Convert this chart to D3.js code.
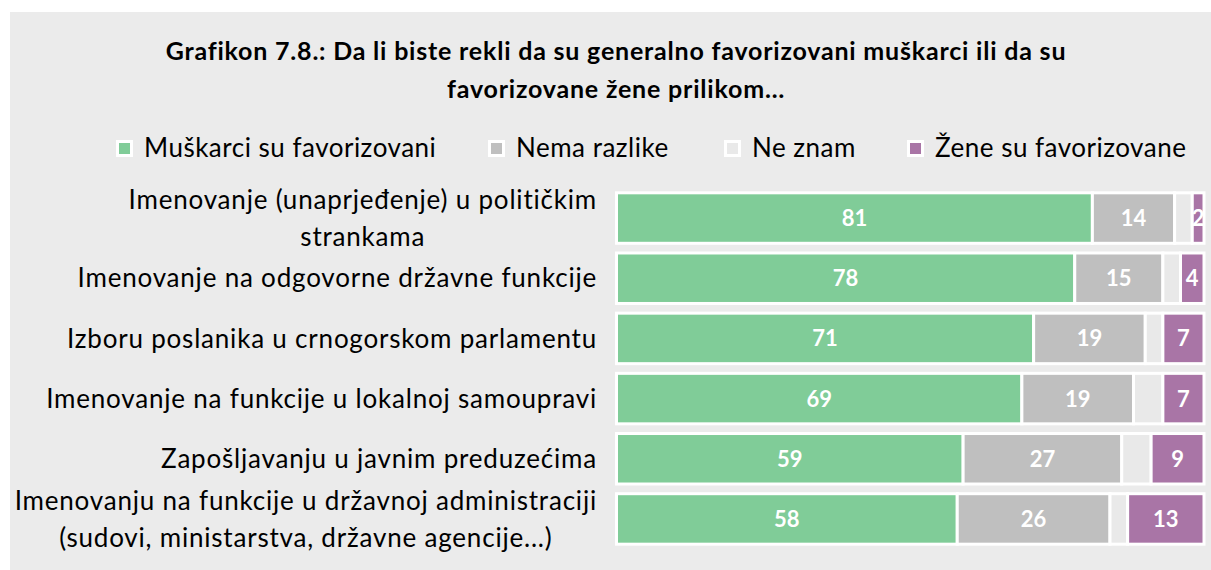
<!DOCTYPE html>
<html>
<head>
<meta charset="utf-8">
<script src="https://cdn.jsdelivr.net/npm/d3@7"></script>
<style>
  body { margin: 0; background: #fff; }
  svg { display: block; font-family: Lato, "Liberation Sans", sans-serif; }
</style>
</head>
<body>
<div class="holder"></div>
<script>
// categories (each entry = lines of the label)
var categories = [
  ['Imenovanje (unaprjeđenje) u političkim', 'strankama'],
  ['Imenovanje na odgovorne državne funkcije'],
  ['Izboru poslanika u crnogorskom parlamentu'],
  ['Imenovanje na funkcije u lokalnoj samoupravi'],
  ['Zapošljavanju u javnim preduzećima'],
  ['Imenovanju na funkcije u državnoj administraciji', '(sudovi, ministarstva, državne agencije...)']
]

var seriesNames = ['Muškarci su favorizovani', 'Nema razlike', 'Ne znam', 'Žene su favorizovane']
var seriesColors = ['#80cc98', '#bfbfbf', '#e9e9e9', '#a975a6']
var showLabel = [true, true, false, true]

var muskarci = [81, 78, 71, 69, 59, 58]
var nemaRazlike = [14, 15, 19, 19, 27, 26]
var neZnam = [3, 3, 3, 5, 5, 3]
var zene = [2, 4, 7, 7, 9, 13]

var titleLines = ['Grafikon 7.8.: Da li biste rekli da su generalno favorizovani muškarci ili da su',
                  'favorizovane žene prilikom…']

var width = 1211,
    height = 570

var svg = d3.select('.holder')
  .append('svg')
  .attr('width', width)
  .attr('height', height)

svg.append('rect')
  .attr('x', 10)
  .attr('y', 12)
  .attr('width', width - 10)
  .attr('height', height - 12)
  .attr('fill', '#ebebeb')

// title
svg.append('g').selectAll('text')
  .data(titleLines)
  .enter()
  .append('text')
  .attr('x', 616)
  .attr('y', function(d, i) { return 60 + i * 38 })
  .attr('text-anchor', 'middle')
  .style('font-size', '25px')
  .style('letter-spacing', '0.8px')
  .style('font-weight', 'bold')
  .attr('fill', '#000')
  .text(function(d) { return d })

// legend
var legendX = [116, 488, 724, 907]
var legend = svg.append('g')
  .selectAll('g')
  .data(seriesNames)
  .enter()
  .append('g')
  .attr('transform', function(d, i) { return 'translate(' + legendX[i] + ',140)' })

legend.append('rect')
  .attr('x', 1.5)
  .attr('y', 1.5)
  .attr('width', 14)
  .attr('height', 14)
  .attr('fill', function(d, i) { return seriesColors[i] })
  .attr('stroke', '#fff')
  .attr('stroke-width', 3)

legend.append('text')
  .attr('x', 28)
  .attr('y', 17)
  .style('font-size', '26px')
  .style('letter-spacing', '0.5px')
  .attr('fill', '#000')
  .text(function(d) { return d })

// stacked data
var stackData = categories.map(function(c, i) {
  return { key: i, s0: muskarci[i], s1: nemaRazlike[i], s2: neZnam[i], s3: zene[i] }
})

var series = d3.stack().keys(['s0', 's1', 's2', 's3'])(stackData)

var xScale = d3.scaleLinear()
  .domain([0, 100])
  .range([616.5, 1204])

var yScale = d3.scaleBand()
  .domain(d3.range(categories.length))
  .range([188, 549])
  .paddingInner(0.161)
  .paddingOuter(0.08)

var layer = svg.append('g')
  .selectAll('g')
  .data(series)
  .enter()
  .append('g')
  .attr('fill', function(d, i) { return seriesColors[i] })

layer.selectAll('rect')
  .data(function(d) { return d })
  .enter()
  .append('rect')
  .attr('x', function(d) { return xScale(d[0]) })
  .attr('y', function(d) { return yScale(d.data.key) })
  .attr('width', function(d) { return xScale(d[1]) - xScale(d[0]) })
  .attr('height', yScale.bandwidth())
  .attr('stroke', '#fff')
  .attr('stroke-width', 3)

// value labels
layer.filter(function(d, i) { return showLabel[i] })
  .selectAll('text')
  .data(function(d) { return d })
  .enter()
  .append('text')
  .attr('x', function(d) { return (xScale(d[0]) + xScale(d[1])) / 2 })
  .attr('y', function(d) { return yScale(d.data.key) + yScale.bandwidth() / 2 })
  .attr('dy', '0.36em')
  .attr('text-anchor', 'middle')
  .attr('fill', '#fff')
  .style('font-size', '22px')
  .style('font-weight', 'bold')
  .text(function(d) { return d[1] - d[0] })

// category labels
var catLabels = svg.append('g')
  .selectAll('text')
  .data(categories)
  .enter()
  .append('text')
  .attr('text-anchor', 'middle')
  .style('font-size', '26px')
  .style('letter-spacing', '0.8px')
  .attr('fill', '#000')
  .attr('transform', function(d, i) {
    var cy = yScale(i) + yScale.bandwidth() / 2
    return 'translate(0,' + cy + ')'
  })

catLabels.selectAll('tspan')
  .data(function(d) { return d.map(function(t, j) { return { t: t, j: j, n: d.length } }) })
  .enter()
  .append('tspan')
  .attr('y', function(d) { return (d.j - (d.n - 1) / 2) * 37 })
  .attr('dy', '0.35em')
  .text(function(d) { return d.t })

// right-align the block, center lines within it (like Excel wrapped labels)
catLabels.each(function() {
  var t = d3.select(this)
  var widths = []
  t.selectAll('tspan').each(function() { widths.push(this.getComputedTextLength()) })
  var maxW = d3.max(widths)
  t.selectAll('tspan').attr('x', 597 - maxW / 2)
})
</script>
</body>
</html>
